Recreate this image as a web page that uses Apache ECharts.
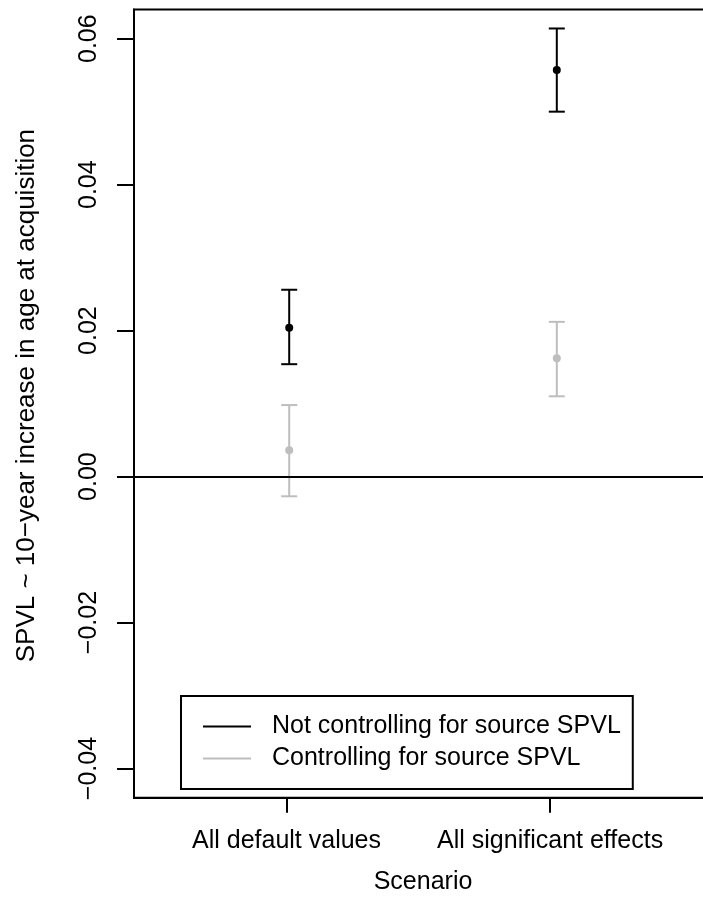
<!DOCTYPE html>
<html>
<head>
<meta charset="utf-8">
<script src="https://cdn.jsdelivr.net/npm/echarts@6/dist/echarts.min.js"></script>
<style>
html,body{margin:0;padding:0;background:#fff;}
#chart{width:703px;height:897px;}
</style>
</head>
<body>
<div id="chart"></div>
<script>
const categories = ['All default values', 'All significant effects'];
const tickPos = [0.99, 1.975];
const xPos = [1, 2];
const seriesNames = ['Not controlling for source SPVL', 'Controlling for source SPVL'];
const notCtrlMean = [0.0204, 0.0557];
const notCtrlLow = [0.0154, 0.0500];
const notCtrlHigh = [0.0256, 0.0614];
const ctrlMean = [0.0036, 0.0162];
const ctrlLow = [-0.0027, 0.0110];
const ctrlHigh = [0.0098, 0.0212];
const yTicks = [-0.04, -0.02, 0, 0.02, 0.04, 0.06];

const FONT = 'Liberation Sans, Arial, Helvetica, sans-serif';

function build(lo, mid, hi) {
  return xPos.map((x, i) => [x, lo[i], mid[i], hi[i]]);
}

function renderItem(params, api) {
  const x = api.value(0), lo = api.value(1), mid = api.value(2), hi = api.value(3);
  const pLo = api.coord([x, lo]), pHi = api.coord([x, hi]), pMid = api.coord([x, mid]);
  const color = api.visual('color');
  const cap = 8;
  const st = {stroke: color, lineWidth: 2};
  return {
    type: 'group',
    children: [
      {type: 'line', shape: {x1: pLo[0], y1: pLo[1], x2: pHi[0], y2: pHi[1]}, style: st},
      {type: 'line', shape: {x1: pLo[0] - cap, y1: pLo[1], x2: pLo[0] + cap, y2: pLo[1]}, style: st},
      {type: 'line', shape: {x1: pHi[0] - cap, y1: pHi[1], x2: pHi[0] + cap, y2: pHi[1]}, style: st},
      {type: 'circle', shape: {cx: pMid[0], cy: pMid[1], r: 4}, style: {fill: color}}
    ]
  };
}

function fmtY(v) {
  return v.toFixed(2).replace('-', '\u2212');
}
function fmtX(v) {
  let best = 0;
  tickPos.forEach((t, i) => { if (Math.abs(t - v) < Math.abs(tickPos[best] - v)) best = i; });
  return categories[best];
}

const chart = echarts.init(document.getElementById('chart'), null, {renderer: 'canvas'});
chart.setOption({
  animation: false,
  backgroundColor: '#fff',
  textStyle: {fontFamily: FONT},
  grid: {
    left: 134, top: 9.5, right: -9, bottom: 99.3,
    containLabel: false, outerBoundsMode: 'none',
    show: true, borderColor: '#000', borderWidth: 2, backgroundColor: 'transparent'
  },
  legend: {
    orient: 'vertical',
    left: 181, top: 696,
    padding: [18, 12, 18, 22],
    borderColor: '#000', borderWidth: 2,
    itemWidth: 48, itemHeight: 2, itemGap: 7,
    icon: 'rect',
    textStyle: {fontSize: 25, lineHeight: 25, color: '#000', fontFamily: FONT, padding: [0, 0, 0, 16]},
    data: seriesNames
  },
  xAxis: {
    type: 'value', min: 0.42, max: 2.58,
    name: 'Scenario', nameLocation: 'middle', nameGap: 72,
    nameTextStyle: {fontSize: 25, color: '#000', fontFamily: FONT},
    splitLine: {show: false},
    axisLine: {show: true, onZero: false, lineStyle: {color: '#000', width: 2}},
    axisTick: {show: true, customValues: tickPos, length: 15, lineStyle: {color: '#000', width: 2}},
    axisLabel: {customValues: tickPos, formatter: fmtX, margin: 31, fontSize: 25, color: '#000', fontFamily: FONT}
  },
  yAxis: {
    type: 'value', min: -0.044, max: 0.064,
    name: 'SPVL ~ 10\u2212year increase in age at acquisition',
    nameLocation: 'middle', nameRotate: 90, nameGap: 94,
    nameTextStyle: {fontSize: 26, color: '#000', fontFamily: FONT, padding: [0, 0, 0, 16]},
    splitLine: {show: false},
    axisLine: {show: true, onZero: false, lineStyle: {color: '#000', width: 2}},
    axisTick: {show: true, customValues: yTicks, length: 17, lineStyle: {color: '#000', width: 2}},
    axisLabel: {customValues: yTicks, formatter: fmtY, rotate: 90, margin: 32, fontSize: 25, color: '#000', fontFamily: FONT}
  },
  series: [
    {
      name: seriesNames[0], type: 'custom', renderItem: renderItem,
      itemStyle: {color: '#000'},
      encode: {x: 0, y: [1, 2, 3]},
      data: build(notCtrlLow, notCtrlMean, notCtrlHigh),
      markLine: {
        silent: true, symbol: 'none', label: {show: false},
        lineStyle: {color: '#000', width: 2, type: 'solid'},
        data: [{yAxis: 0}]
      },
      z: 3
    },
    {
      name: seriesNames[1], type: 'custom', renderItem: renderItem,
      itemStyle: {color: '#bebebe'},
      encode: {x: 0, y: [1, 2, 3]},
      data: build(ctrlLow, ctrlMean, ctrlHigh),
      z: 2
    }
  ]
});
</script>
</body>
</html>
